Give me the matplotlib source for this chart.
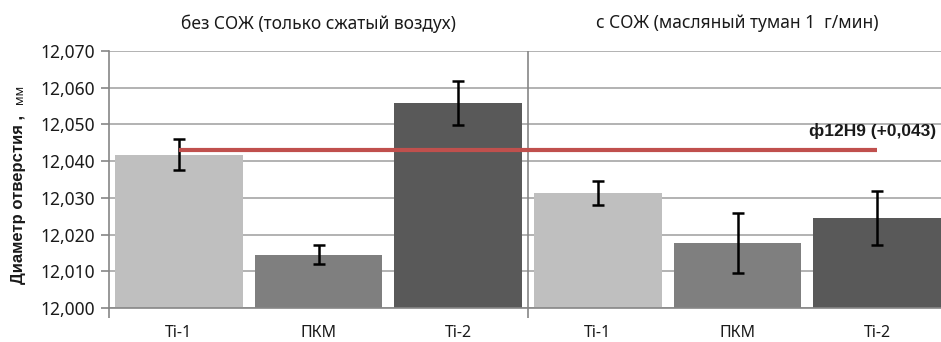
import matplotlib.pyplot as plt

plt.rcParams['font.family'] = ['Noto Sans', 'DejaVu Sans']

# hole diameter, mm (mean and spread) for each tool, dry vs. with oil mist
groups = ['без СОЖ (только сжатый воздух)', 'с СОЖ (масляный туман 1  г/мин)']
tools = ['Ti-1', 'ПКМ', 'Ti-2', 'Ti-1', 'ПКМ', 'Ti-2']
diam = [12.0418, 12.0145, 12.0559, 12.0313, 12.0178, 12.0245]
err = [0.0041, 0.0026, 0.0060, 0.0033, 0.0082, 0.0073]
colors = ['#bfbfbf', '#7f7f7f', '#595959', '#bfbfbf', '#7f7f7f', '#595959']
tol = 12.043
tol_label = 'ф12Н9 (+0,043)'
yticks = [12.000, 12.010, 12.020, 12.030, 12.040, 12.050, 12.060, 12.070]

bold = ['Liberation Sans', 'DejaVu Sans']
ink = '#1a1a1a'

W, H = 941, 342
fig = plt.figure(figsize=(W / 100, H / 100), dpi=100)
ax = fig.add_axes([109 / W, 1 - 308 / H, 838 / W, 257 / H])

x = list(range(len(tools)))
ax.bar(x, diam, width=0.914, color=colors, zorder=2)
ax.errorbar(x, diam, yerr=err, fmt='none', ecolor='black', elinewidth=1.8,
            capsize=4, capthick=1.8, zorder=3)

# tolerance limit of the H9 hole
ax.plot([x[0], x[-1]], [tol, tol], color='#c0504d', lw=3, zorder=4,
        solid_capstyle='butt')
ax.text(4.51, 12.0481, tol_label, fontsize=12.5, fontweight='bold',
        family=bold, color=ink, ha='left', va='center', zorder=5)

ax.set_xlim(-0.5, 5.5)
ax.set_ylim(12.0, 12.07)
ax.set_yticks(yticks)
ax.set_yticklabels([f'{v:.3f}'.replace('.', ',') for v in yticks],
                   fontsize=12.5, color=ink)
ax.yaxis.grid(True, color='#a6a6a6', lw=1.2, zorder=0)
ax.set_axisbelow(True)

# group boundaries as major ticks, tool names on minor ticks
ax.set_xticks([-0.5, 2.5, 5.5])
ax.set_xticklabels([])
ax.set_xticks(x, minor=True)
ax.set_xticklabels(tools, minor=True, fontsize=11.5, color=ink)
ax.tick_params(axis='x', which='major', length=7, color='#868686', width=1.2)
ax.tick_params(axis='x', which='minor', length=0, pad=12)
ax.tick_params(axis='y', length=6, color='#868686', width=1.2, pad=4)
ax.axvline(2.5, color='#868686', lw=1.2, zorder=1)

for s in ['top', 'right']:
    ax.spines[s].set_visible(False)
for s in ['left', 'bottom']:
    ax.spines[s].set_color('#868686')
    ax.spines[s].set_linewidth(1.2)

ax.text(1.0, 12.0775, groups[0], fontsize=12.5, ha='center', va='center',
        color=ink)
ax.text(4.0, 12.0775, groups[1], fontsize=12.5, ha='center', va='center',
        color=ink)

fig.text(19 / W, 1 - 199 / H, 'Диаметр отверстия ,', rotation=90,
         fontsize=12, fontweight='bold', family=bold, ha='center',
         va='center', color=ink)
fig.text(20 / W, 1 - 94 / H, 'мм', rotation=90, fontsize=9,
         ha='center', va='center', color=ink)

fig.savefig('out.png', dpi=100)
